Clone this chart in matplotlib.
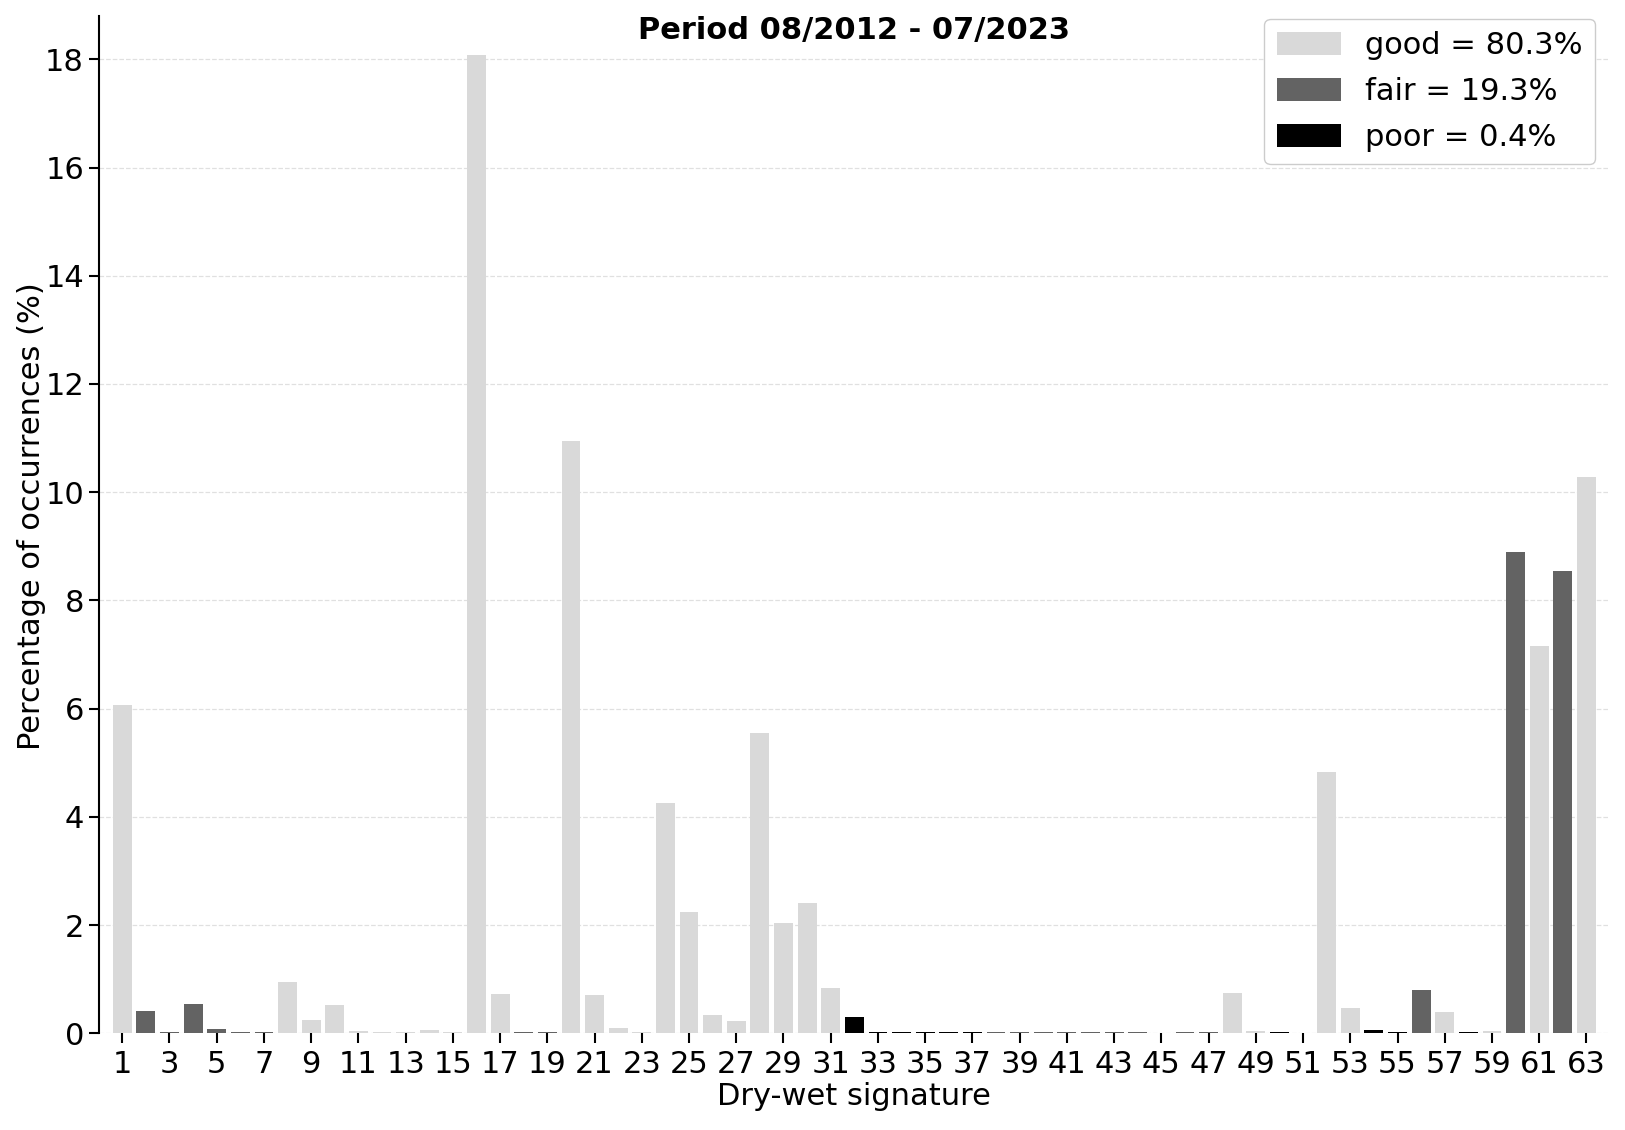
import matplotlib
matplotlib.use("Agg")
from matplotlib import pyplot as plt
from matplotlib.patches import Patch
import numpy as np

# dry-wet signatures 1..63
signatures = list(range(1, 64))

percent = [
    6.06, 0.41, 0.03, 0.55, 0.08, 0.03, 0.02, 0.95, 0.25, 0.52,
    0.045, 0.02, 0.02, 0.06, 0.02, 18.08, 0.73, 0.02, 0.02, 10.94,
    0.71, 0.10, 0.02, 4.25, 2.24, 0.34, 0.23, 5.55, 2.03, 2.41,
    0.84, 0.30, 0.03, 0.02, 0.02, 0.02, 0.02, 0.02, 0.02, 0.02,
    0.02, 0.02, 0.02, 0.02, 0.0, 0.02, 0.02, 0.75, 0.045, 0.02,
    0.0, 4.82, 0.47, 0.06, 0.02, 0.80, 0.40, 0.02, 0.045, 8.89,
    7.15, 8.55, 10.29,
]

quality = (
    ["good", "fair", "fair", "fair", "fair", "fair", "fair", "good", "good", "good",
     "good", "good", "good", "good", "good", "good", "good", "fair", "fair", "good",
     "good", "good", "good", "good", "good", "good", "good", "good", "good", "good",
     "good", "poor", "poor", "poor", "poor", "poor", "poor", "fair", "fair", "fair",
     "fair", "fair", "fair", "fair", "fair", "fair", "fair", "good", "good", "poor",
     "good", "good", "good", "poor", "poor", "fair", "good", "poor", "good", "fair",
     "good", "fair", "good"]
)

legend_labels = {"good": "good = 80.3%", "fair": "fair = 19.3%", "poor": "poor = 0.4%"}
colors = {"good": "#d9d9d9", "fair": "#636363", "poor": "#000000"}

plt.rcParams["font.family"] = "DejaVu Sans"
fs = 22

fig = plt.figure(figsize=(16.25, 11.3), dpi=100)
ax = fig.add_axes([0.0607, 0.0856, 0.9301, 0.9002])

bar_colors = [colors[q] for q in quality]
ax.bar(signatures, percent, width=0.8, color=bar_colors)

ax.set_xlim(0.0, 64.0)
ax.set_ylim(0, 18.8)
ax.set_xticks(range(1, 64, 2))
ax.set_yticks(range(0, 19, 2))
ax.tick_params(axis="both", labelsize=fs, length=7, width=1.5, color="black")
ax.tick_params(axis="x", pad=5)

ax.grid(axis="y", linestyle="--", color="#e0e0e0", linewidth=0.9)
ax.set_axisbelow(True)

for s in ["top", "right", "bottom"]:
    ax.spines[s].set_visible(False)
ax.spines["left"].set_linewidth(1.5)

ax.set_xlabel("Dry-wet signature", fontsize=fs)
ax.set_ylabel("Percentage of occurrences (%)", fontsize=fs)
ax.xaxis.set_label_coords(0.5, -0.048)
ax.yaxis.set_label_coords(-0.035, 0.508)

fig.text(854 / 1625, 1 - 31 / 1130, "Period 08/2012 - 07/2023", fontsize=fs,
         fontweight="bold", ha="center", va="center")

handles = [Patch(facecolor=colors[k], label=legend_labels[k]) for k in ["good", "fair", "poor"]]
ax.legend(handles=handles, loc="upper right", bbox_to_anchor=(1595 / 1625, 1 - 19 / 1130),
          bbox_transform=fig.transFigure, borderaxespad=0, fontsize=fs,
          handlelength=2.1, handleheight=0.8, labelspacing=0.55,
          edgecolor="#cccccc", framealpha=1)

fig.savefig("out.png", dpi=100)
